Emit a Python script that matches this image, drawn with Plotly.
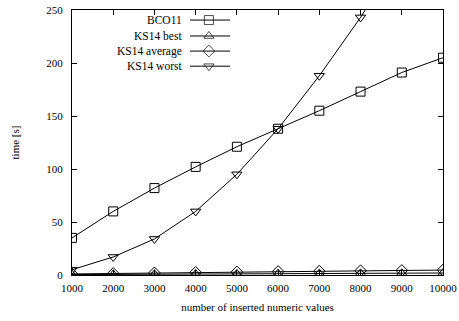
import plotly.graph_objects as go

x_vals = [1000, 2000, 3000, 4000, 5000, 6000, 7000, 8000, 9000, 10000]
bco11 = [35, 60, 82, 102, 121, 138, 155, 173, 191, 205]
ks14_best = [0.4, 0.6, 0.8, 1.0, 1.1, 1.3, 1.4, 1.6, 1.7, 1.9]
ks14_avg = [1.0, 1.5, 2.0, 2.5, 2.9, 3.3, 3.6, 4.0, 4.3, 4.6]
ks14_worst_x = [1000, 2000, 3000, 4000, 5000, 6000, 7000, 8000, 9000]
ks14_worst = [5, 17, 34, 60, 95, 138, 188, 243, 305]

series = [
    ("BCO11", x_vals, bco11, "square-open"),
    ("KS14 best", x_vals, ks14_best, "triangle-up-open"),
    ("KS14 average", x_vals, ks14_avg, "diamond-open"),
    ("KS14 worst", ks14_worst_x, ks14_worst, "triangle-down-open"),
]

FONT = "Liberation Serif"
fig = go.Figure()
for name, xs, ys, sym in series:
    fig.add_trace(go.Scatter(
        x=xs, y=ys, mode="lines+markers", name=name, showlegend=False,
        line=dict(color="black", width=1),
        marker=dict(symbol=sym, size=9, color="black", line=dict(width=1, color="black")),
        cliponaxis=True,
    ))

# custom gnuplot-style legend (text left, sample right)
leg_rows = [0.962, 0.902, 0.845, 0.788]
for (name, xs, ys, sym), yr in zip(series, leg_rows):
    fig.add_trace(go.Scatter(
        x=[0.318, 0.369, 0.426], y=[yr, yr, yr], xaxis="x2", yaxis="y2",
        mode="lines+markers", showlegend=False, hoverinfo="skip",
        line=dict(color="black", width=1),
        marker=dict(symbol=sym, size=[0, 9, 0], color="black", line=dict(width=1, color="black")),
    ))
    fig.add_annotation(x=0.299, y=yr, xref="x2", yref="y2", text=name, showarrow=False,
                       xanchor="right", yanchor="middle", borderpad=0,
                       font=dict(family=FONT, size=11.5, color="black"))

axis_common = dict(showline=True, linecolor="black", linewidth=1, ticks="inside", ticklen=5,
                   tickcolor="black", mirror="allticks", showgrid=False, zeroline=False,
                   automargin=False,
                   tickfont=dict(family=FONT, size=11, color="black"))
fig.update_layout(
    width=459, height=321,
    margin=dict(l=72, r=16, t=10, b=46),
    paper_bgcolor="white", plot_bgcolor="white",
    xaxis=dict(range=[1000, 10000], tickvals=x_vals, ticktext=[str(v) for v in x_vals],
               ticklabelstandoff=3,
               title=dict(text="number of inserted numeric values", font=dict(family=FONT, size=11, color="black"), standoff=10),
               **axis_common),
    yaxis=dict(range=[0, 250], tickvals=[0, 50, 100, 150, 200, 250],
               ticklabelstandoff=6,
               title=dict(text="time [s]", font=dict(family=FONT, size=11, color="black"), standoff=24),
               **axis_common),
    xaxis2=dict(range=[0, 1], overlaying="x", visible=False, fixedrange=True),
    yaxis2=dict(range=[0, 1], overlaying="y", visible=False, fixedrange=True),
    showlegend=False,
)
fig.write_html("out.html", config={"displayModeBar": False},
               post_script="document.body.style.margin='0';document.body.style.overflow='hidden';")
